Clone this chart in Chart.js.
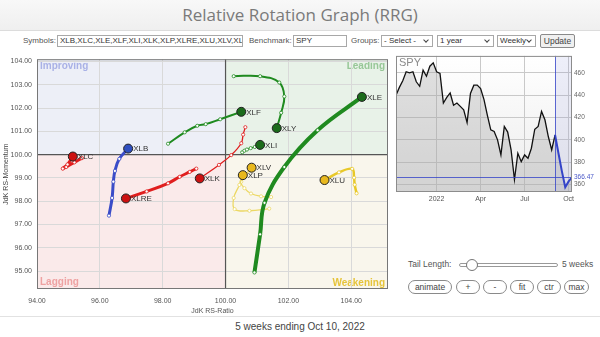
<!DOCTYPE html>
<html>
<head>
<meta charset="utf-8">
<title>Relative Rotation Graph (RRG)</title>
<script src="https://cdn.jsdelivr.net/npm/chart.js@4.4.1/dist/chart.umd.min.js"></script>
<style>
  html, body { margin: 0; padding: 0; }
  body {
    width: 600px; height: 337px; position: relative; overflow: hidden;
    background: #fff; font-family: "Liberation Sans", Arial, sans-serif; color: #444;
  }
  #header {
    position: absolute; left: 0; top: 0; width: 600px; height: 30px;
    background: linear-gradient(#f8f8f8, #efefef); border-bottom: 1px solid #dcdcdc;
    text-align: center;
  }
  #header h1 { margin: 0; font: normal 17px "Open Sans", sans-serif; color: #7a7a7a; line-height: 30px; }
  .lbl { position: absolute; font-size: 8px; color: #555; white-space: nowrap; line-height: 12px; }
  .box {
    position: absolute; height: 12px; box-sizing: border-box; border: 1px solid #a8a8a8;
    background: #fff; font-size: 8px; line-height: 10px; padding-left: 2px; color: #333;
    white-space: nowrap; overflow: hidden;
  }
  .sel::after {
    content: ""; position: absolute; right: 4px; top: 2px; width: 3px; height: 3px;
    border-right: 1.3px solid #444; border-bottom: 1.3px solid #444; transform: rotate(45deg);
  }
  .btn {
    position: absolute; height: 14px; box-sizing: border-box; border: 1px solid #8a8a8a;
    border-radius: 7px; background: #fff; font-size: 8.5px; line-height: 12px; text-align: center; color: #444;
  }
  #rrg { position: absolute; left: 0; top: 50px; }
  #spy { position: absolute; left: 390px; top: 50px; }
  #footer-line { position: absolute; left: 0; top: 316px; width: 600px; border-top: 1px solid #e2e2e2; }
  #footer { position: absolute; left: 0; top: 321px; width: 600px; text-align: center; font-size: 10px; color: #444; }
</style>
</head>
<body>
<div id="header"><h1>Relative Rotation Graph (RRG)</h1></div>

<div class="lbl" style="left:23px;top:35px">Symbols:</div>
<div class="box" style="left:57px;top:35px;width:186px">XLB,XLC,XLE,XLF,XLI,XLK,XLP,XLRE,XLU,XLV,XLY</div>
<div class="lbl" style="left:249px;top:35px">Benchmark:</div>
<div class="box" style="left:293px;top:35px;width:54px">SPY</div>
<div class="lbl" style="left:351px;top:35px">Groups:</div>
<div class="box sel" style="left:381px;top:35px;width:52px">- Select -</div>
<div class="box sel" style="left:437px;top:35px;width:57px">1 year</div>
<div class="box sel" style="left:497px;top:35px;width:39px">Weekly</div>
<div class="btn" style="left:540px;top:34px;width:35px;border-radius:2px;background:#f0f0f0">Update</div>

<canvas id="rrg" width="395" height="265"></canvas>
<canvas id="spy" width="210" height="155"></canvas>

<div class="lbl" style="left:408px;top:258px;font-size:8.5px">Tail Length:</div>
<div style="position:absolute;left:459px;top:263px;width:97px;height:2px;border:1px solid #999;border-radius:2px;background:#fff"></div>
<div style="position:absolute;left:466px;top:259px;width:10px;height:10px;border:1px solid #777;border-radius:50%;background:#fff"></div>
<div class="lbl" style="left:562px;top:258px;font-size:8.5px">5 weeks</div>

<div class="btn" style="left:408px;top:280px;width:44px">animate</div>
<div class="btn" style="left:456px;top:280px;width:24px">+</div>
<div class="btn" style="left:483px;top:280px;width:24px">-</div>
<div class="btn" style="left:510px;top:280px;width:24px">fit</div>
<div class="btn" style="left:537px;top:280px;width:24px">ctr</div>
<div class="btn" style="left:564px;top:280px;width:25px">max</div>

<div id="footer-line"></div>
<div id="footer">5 weeks ending Oct 10, 2022</div>

<script>
// ---- RRG tails: JdK RS-Ratio (x) and RS-Momentum (y), oldest week first ----
const tickers = ['XLB', 'XLC', 'XLE', 'XLF', 'XLI', 'XLK', 'XLP', 'XLRE', 'XLU', 'XLV', 'XLY'];

const xlbRatio = [96.29, 96.39, 96.43, 96.48, 96.62, 96.90];
const xlbMomentum = [97.38, 98.14, 98.84, 99.30, 99.82, 100.26];
const xlcRatio = [95.43, 95.19, 94.93, 94.82, 94.97, 95.14];
const xlcMomentum = [99.85, 99.67, 99.47, 99.40, 99.58, 99.92];
const xleRatio = [100.92, 101.10, 101.24, 101.87, 102.93, 104.34];
const xleMomentum = [94.94, 96.58, 97.93, 99.47, 101.05, 102.48];
const xlfRatio = [98.17, 98.70, 99.10, 99.37, 99.83, 100.50];
const xlfMomentum = [100.47, 100.96, 101.24, 101.31, 101.52, 101.84];
const xliRatio = [100.53, 100.60, 100.68, 100.80, 100.93, 101.10];
const xliMomentum = [100.10, 100.17, 100.22, 100.28, 100.33, 100.42];
const xlkRatio = [100.63, 100.56, 100.50, 100.18, 99.79, 99.18];
const xlkMomentum = [101.18, 100.86, 100.49, 99.98, 99.56, 98.98];
const xlpRatio = [101.39, 100.76, 100.29, 100.26, 100.44, 100.55];
const xlpMomentum = [97.68, 97.59, 97.66, 98.14, 98.70, 99.12];
const xlreRatio = [99.07, 98.86, 98.54, 98.17, 97.49, 96.83];
const xlreMomentum = [99.40, 99.26, 99.05, 98.77, 98.42, 98.12];
const xluRatio = [104.17, 104.11, 104.09, 104.03, 103.61, 103.15];
const xluMomentum = [98.34, 98.71, 99.01, 99.39, 99.24, 98.91];
const xlvRatio = [101.45, 101.13, 100.81, 100.60, 100.50, 100.83];
const xlvMomentum = [98.18, 98.21, 98.33, 98.56, 98.84, 99.44];
const xlyRatio = [100.26, 101.10, 101.71, 101.87, 101.77, 101.63];
const xlyMomentum = [103.37, 103.37, 103.10, 102.50, 101.80, 101.14];

const ratioTicks = [94, 96, 98, 100, 102, 104];
const momentumTicks = [95, 96, 97, 98, 99, 100, 101, 102, 103, 104];

// ---- SPY weekly closes, Oct 2021 .. Oct 10 2022 ----
const spyClose = [
  440, 447, 453, 461, 460, 461, 452, 448, 462.5, 457,
  466, 469, 461, 459.5, 433, 438, 442, 431, 433, 430,
  427, 415.5, 441.5, 449, 449, 446, 436, 422, 409, 407.5,
  400, 386.5, 412, 407, 391, 364.5, 388, 380.5, 386.5, 383.5,
  392.5, 409.5, 412, 425.5, 418, 403, 391, 404.5, 388, 372,
  357.5, 362.8, 366.47
];
const spyTickIndex = [12, 25, 38, 51];
const spyTickLabels = ['2022', 'Apr', 'Jul', 'Oct'];
const spyPriceTicks = [360, 380, 400, 420, 440, 460];
const spyLast = 366.47;
const tailStart = 47;

// ---- styles ----
const RED = { line: '#e01e1e', head: '#cc1111' };
const GREEN = { line: '#1f8a1f', head: '#1b6b1b' };
const BLUE = { line: '#3a4cc8', head: '#2f4fc0' };
const YELLOW = { line: '#ecd864', head: '#e8b81e' };

const tailStyle = {
  XLB: { c: BLUE, w: 3 },
  XLC: { c: RED, w: 3 },
  XLE: { c: GREEN, w: 4 },
  XLF: { c: GREEN, w: 2 },
  XLI: { c: GREEN, w: 1.3 },
  XLK: { c: RED, w: 1.3 },
  XLP: { c: YELLOW, w: 1.3 },
  XLRE: { c: RED, w: 3 },
  XLU: { c: { line: '#e8c828', head: '#e8b81e' }, w: 2.5 },
  XLV: { c: YELLOW, w: 1.3 },
  XLY: { c: GREEN, w: 2 }
};

const tailData = {
  XLB: [xlbRatio, xlbMomentum], XLC: [xlcRatio, xlcMomentum], XLE: [xleRatio, xleMomentum],
  XLF: [xlfRatio, xlfMomentum], XLI: [xliRatio, xliMomentum], XLK: [xlkRatio, xlkMomentum],
  XLP: [xlpRatio, xlpMomentum], XLRE: [xlreRatio, xlreMomentum], XLU: [xluRatio, xluMomentum],
  XLV: [xlvRatio, xlvMomentum], XLY: [xlyRatio, xlyMomentum]
};

const FONT = '"Liberation Sans", Arial, sans-serif';

function buildTailDataset(name) {
  const [rx, my] = tailData[name];
  const st = tailStyle[name];
  const last = rx.length - 1;
  return {
    label: name,
    data: rx.map((v, i) => ({ x: v, y: my[i] })),
    showLine: true,
    tension: 0.4,
    borderColor: st.c.line,
    borderWidth: st.w,
    pointRadius: rx.map((v, i) => i === last ? 4.5 : 1.6),
    pointBackgroundColor: rx.map((v, i) => i === last ? st.c.head : '#ffffff'),
    pointBorderColor: rx.map((v, i) => i === last ? '#222' : st.c.line),
    pointBorderWidth: rx.map((v, i) => i === last ? 1 : 0.8)
  };
}

// quadrant fills, labels and the 100/100 cross
const quadrantPlugin = {
  id: 'quadrants',
  beforeDraw(chart) {
    const { ctx, chartArea: a, scales: { x, y } } = chart;
    const cx = x.getPixelForValue(100), cy = y.getPixelForValue(100);
    ctx.save();
    ctx.fillStyle = '#edeff7'; ctx.fillRect(a.left, a.top, cx - a.left, cy - a.top);
    ctx.fillStyle = '#e8f2e8'; ctx.fillRect(cx, a.top, a.right - cx, cy - a.top);
    ctx.fillStyle = '#faeaea'; ctx.fillRect(a.left, cy, cx - a.left, a.bottom - cy);
    ctx.fillStyle = '#f9f6ec'; ctx.fillRect(cx, cy, a.right - cx, a.bottom - cy);

    ctx.font = 'bold 10px ' + FONT;
    ctx.textBaseline = 'top';
    ctx.textAlign = 'left';
    ctx.fillStyle = '#a9b1e6'; ctx.fillText('Improving', a.left + 3, a.top + 2);
    ctx.textAlign = 'right';
    ctx.fillStyle = '#97c797'; ctx.fillText('Leading', a.right - 3, a.top + 2);
    ctx.textBaseline = 'bottom';
    ctx.textAlign = 'left';
    ctx.fillStyle = '#eea2a2'; ctx.fillText('Lagging', a.left + 3, a.bottom - 2);
    ctx.textAlign = 'right';
    ctx.fillStyle = '#e6c43a'; ctx.fillText('Weakening', a.right - 3, a.bottom - 1);
    ctx.restore();
  },
  beforeDatasetsDraw(chart) {
    const { ctx, chartArea: a, scales: { x, y } } = chart;
    const cx = x.getPixelForValue(100), cy = y.getPixelForValue(100);
    ctx.save();
    ctx.strokeStyle = '#555';
    ctx.lineWidth = 1.2;
    ctx.beginPath();
    ctx.moveTo(cx, a.top); ctx.lineTo(cx, a.bottom);
    ctx.moveTo(a.left, cy); ctx.lineTo(a.right, cy);
    ctx.stroke();
    ctx.strokeStyle = '#777';
    ctx.lineWidth = 1;
    ctx.strokeRect(a.left + 0.5, a.top + 0.5, a.right - a.left - 1, a.bottom - a.top - 1);
    ctx.restore();
  },
  afterDatasetsDraw(chart) {
    const { ctx } = chart;
    ctx.save();
    ctx.font = '8px ' + FONT;
    ctx.fillStyle = '#333';
    ctx.textAlign = 'left';
    ctx.textBaseline = 'middle';
    chart.data.datasets.forEach((ds, i) => {
      const pts = chart.getDatasetMeta(i).data;
      const head = pts[pts.length - 1];
      ctx.fillText(ds.label, head.x + 5, head.y + 0.5);
    });
    ctx.restore();
  }
};

new Chart(document.getElementById('rrg'), {
  type: 'scatter',
  data: { datasets: tickers.map(buildTailDataset) },
  options: {
    responsive: false,
    animation: false,
    layout: { padding: { left: 0, right: 7, top: 4, bottom: 0 } },
    plugins: { legend: { display: false }, tooltip: { enabled: false } },
    scales: {
      x: {
        type: 'linear', min: 94, max: 105.17,
        afterBuildTicks: s => { s.ticks = ratioTicks.map(v => ({ value: v })); },
        afterFit: s => { s.height = 26; },
        grid: { color: '#d9d9d9', drawTicks: false, tickLength: 0 },
        border: { display: false },
        ticks: { padding: 8, color: '#555', font: { size: 7, family: FONT }, callback: v => v.toFixed(2) },
        title: { display: true, text: 'JdK RS-Ratio', color: '#555', font: { size: 7, family: FONT }, padding: { top: 1, bottom: 0 } }
      },
      y: {
        type: 'linear', min: 94.23, max: 104.1,
        afterBuildTicks: s => { s.ticks = momentumTicks.map(v => ({ value: v })); },
        afterFit: s => { s.width = 37; },
        grid: { color: '#d9d9d9', drawTicks: false, tickLength: 0 },
        border: { display: false },
        ticks: { padding: 5, color: '#555', font: { size: 7, family: FONT }, callback: v => v.toFixed(2) },
        title: { display: true, text: 'JdK RS-Momentum', color: '#444', font: { size: 7, family: FONT }, padding: { top: 2, bottom: 0 } }
      }
    }
  },
  plugins: [quadrantPlugin]
});

// ---- benchmark panel ----
const BLUE_LINE = '#3444c8';

const spyPlugin = {
  id: 'spyDecor',
  beforeDraw(chart) {
    const { ctx, chartArea: a } = chart;
    const g = ctx.createLinearGradient(0, a.top, 0, a.bottom);
    g.addColorStop(0, '#ffffff');
    g.addColorStop(1, '#ececec');
    ctx.save();
    ctx.fillStyle = g;
    ctx.fillRect(a.left, a.top, a.right - a.left, a.bottom - a.top);
    ctx.restore();
  },
  beforeDatasetsDraw(chart) {
    const { ctx, chartArea: a, scales: { x } } = chart;
    const sx = x.getPixelForValue(tailStart);
    ctx.save();
    ctx.fillStyle = 'rgba(120,130,220,0.13)';
    ctx.fillRect(sx, a.top, a.right - sx, a.bottom - a.top);
    ctx.restore();
  },
  afterDatasetsDraw(chart) {
    const { ctx, chartArea: a, scales: { x, y } } = chart;
    const sx = x.getPixelForValue(tailStart);
    const ly = y.getPixelForValue(spyLast);
    ctx.save();
    ctx.strokeStyle = BLUE_LINE;
    ctx.globalAlpha = 0.8;
    ctx.lineWidth = 1;
    ctx.beginPath();
    ctx.moveTo(Math.round(sx) + 0.5, a.top); ctx.lineTo(Math.round(sx) + 0.5, a.bottom);
    ctx.moveTo(a.left, Math.round(ly) + 0.5); ctx.lineTo(a.right, Math.round(ly) + 0.5);
    ctx.stroke();
    ctx.globalAlpha = 1;

    ctx.strokeStyle = '#8c8c8c';
    ctx.strokeRect(a.left + 0.5, a.top + 0.5, a.right - a.left - 1, a.bottom - a.top - 1);

    ctx.font = '11px ' + FONT;
    ctx.fillStyle = '#8a8a8a';
    ctx.textBaseline = 'top';
    ctx.fillText('SPY', a.left + 3, a.top + 2);

    ctx.font = '6.5px ' + FONT;
    ctx.fillStyle = '#4a58c8';
    ctx.textBaseline = 'middle';
    ctx.fillText(spyLast.toFixed(2), a.right + 2, ly);
    ctx.restore();
  }
};

new Chart(document.getElementById('spy'), {
  type: 'line',
  data: {
    datasets: [{
      data: spyClose.map((v, i) => ({ x: i, y: v })),
      borderColor: '#111',
      borderWidth: 1.3,
      pointRadius: 0,
      tension: 0,
      fill: 'start',
      backgroundColor: 'rgba(160,160,160,0.32)',
      segment: {
        borderColor: c => c.p0DataIndex >= tailStart ? BLUE_LINE : '#111',
        borderWidth: c => c.p0DataIndex >= tailStart ? 2 : 1.3
      }
    }]
  },
  options: {
    responsive: false,
    animation: false,
    layout: { padding: { left: 6, right: 0, top: 4, bottom: 0 } },
    plugins: { legend: { display: false }, tooltip: { enabled: false } },
    scales: {
      x: {
        type: 'linear', min: 0, max: spyClose.length - 1,
        afterBuildTicks: s => { s.ticks = spyTickIndex.map(v => ({ value: v })); },
        afterFit: s => { s.height = 13; },
        grid: { color: '#c9c9c9', drawTicks: false, tickLength: 0 },
        border: { display: false },
        ticks: {
          padding: 3, color: '#555', font: { size: 7, family: FONT }, maxRotation: 0,
          callback: v => spyTickLabels[spyTickIndex.indexOf(v)]
        }
      },
      y: {
        type: 'linear', position: 'right', min: 353.3, max: 475.2,
        afterBuildTicks: s => { s.ticks = spyPriceTicks.map(v => ({ value: v })); },
        afterFit: s => { s.width = 28; },
        grid: { color: '#c9c9c9', drawTicks: false, tickLength: 0 },
        border: { display: false },
        ticks: { padding: 2, color: '#666', font: { size: 6.5, family: FONT } }
      }
    }
  },
  plugins: [spyPlugin]
});
</script>
</body>
</html>
